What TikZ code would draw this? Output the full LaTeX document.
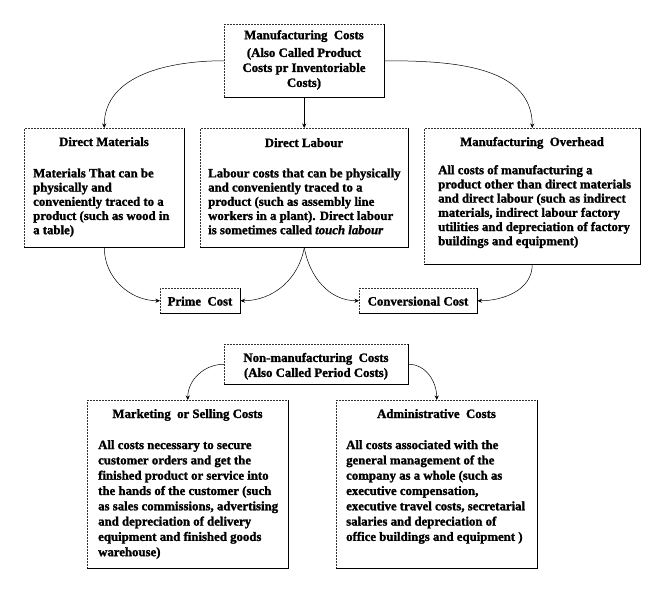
\documentclass[tikz,border=0pt]{standalone}
\usepackage{fontspec}
\setmainfont{Liberation Serif}[BoldFeatures={FakeBold=1.5},BoldItalicFeatures={FakeBold=1.5}]
\usetikzlibrary{arrows.meta}
\begin{document}
\begin{tikzpicture}[x=1pt,y=-1pt,
  box/.style={draw=black!80, densely dotted, line width=0.5pt, inner sep=0pt, anchor=north west},
  edge/.style={draw=black, line width=0.6pt},
  ttl/.style={inner sep=0pt, anchor=base, font=\fontsize{12.8}{14}\selectfont\bfseries},
  body/.style={inner sep=0pt, anchor=north west, align=left, font=\fontsize{12.8}{14.2}\selectfont\bfseries},
  bodyb/.style={inner sep=0pt, anchor=north west, align=left, font=\fontsize{12.8}{15.3}\selectfont\bfseries},
  ctr/.style={inner sep=0pt, anchor=north, align=center, font=\fontsize{12.8}{15}\selectfont\bfseries},
  arr/.style={draw=black, line width=0.5pt, -{Stealth[length=4.5pt,width=4pt]}}]
\useasboundingbox (0,0) rectangle (648,600);
% boxes
\node[box, minimum width=160pt, minimum height=73pt] (mc) at (224,24) {};
\node[box, minimum width=160pt, minimum height=119pt] (dm) at (24,128) {};
\node[box, minimum width=208pt, minimum height=119pt] (dl) at (200,128) {};
\node[box, minimum width=216pt, minimum height=136pt] (oh) at (424,128) {};
\node[box, minimum width=80pt, minimum height=25pt] (pc) at (160,288) {};
\node[box, minimum width=118pt, minimum height=25pt] (cc) at (359,288) {};
\node[box, minimum width=184pt, minimum height=40pt] (nm) at (224,344) {};
\node[box, minimum width=201pt, minimum height=168pt] (ms) at (87,400) {};
\node[box, minimum width=201pt, minimum height=168pt] (ad) at (336,400) {};
\foreach \n in {mc,dm,dl,oh,pc,cc,nm,ms,ad}
  \draw[edge] (\n.north east) -- (\n.south east) -- (\n.south west);
% texts
\node[ctr] (mct) at (304,30) {Manufacturing\ \ Costs\\[2.7pt] (Also Called Product\\ Costs pr Inventoriable\\ Costs)};
\node[ttl] (dmt) at (104,146) {Direct Materials};
\node[body] (dmb) at (33,168.3) {Materials That can be\\ physically and\\ conveniently traced to a\\ product (such as wood in\\ a table)};
\node[ttl] (dlt) at (304,147) {Direct Labour};
\node[body] (dlb) at (208,168.3) {Labour costs that can be physically\\ and conveniently traced to a\\ product (such as assembly line\\ workers in a plant). Direct labour\\ is sometimes called \textit{touch labour}};
\node[ttl] (oht) at (532,146) {Manufacturing\ \ Overhead};
\node[body] (ohb) at (438,165) {All costs of manufacturing a\\ product other than direct materials\\ and direct labour (such as indirect\\ materials, indirect labour factory\\ utilities and depreciation of factory\\ buildings and equipment)};
\node[ttl] (pct) at (200,305.5) {Prime\ \ Cost};
\node[ttl] (cct) at (418,305.5) {Conversional Cost};
\node[ctr] (nmt) at (316,352.7) {Non-manufacturing\ \ Costs\\ (Also Called Period Costs)};
\node[ttl] (mst) at (187.5,418) {Marketing\ \ or Selling Costs};
\node[bodyb] (msb) at (98,440) {All costs necessary to secure\\ customer orders and get the\\ finished product or service into\\ the hands of the customer (such\\ as sales commissions, advertising\\ and depreciation of delivery\\ equipment and finished goods\\ warehouse)};
\node[ttl] (adt) at (436.5,418) {Administrative\ \ Costs};
\node[bodyb] (adb) at (346,440) {All costs associated with the\\ general management of the\\ company as a whole (such as\\ executive compensation,\\ executive travel costs, secretarial\\ salaries and depreciation of\\ office buildings and equipment )};
% connectors
\draw[arr] (mc.west) to[out=180,in=90] (dm.north);
\draw[arr] (mc.east) to[out=0,in=90] (oh.north);
\draw[arr] (mc.south) -- (dl.north);
\draw[arr] (dm.south) to[out=-90,in=180] (pc.west);
\draw[arr] (dl.south) to[out=-100,in=0] (pc.east);
\draw[arr] (dl.south) to[out=-80,in=180] (cc.west);
\draw[arr] (oh.south) to[out=-90,in=0] (cc.east);
\draw[arr] (nm.west) to[out=180,in=90] (ms.north);
\draw[arr] (nm.east) to[out=0,in=90] (ad.north);
\end{tikzpicture}
\end{document}
